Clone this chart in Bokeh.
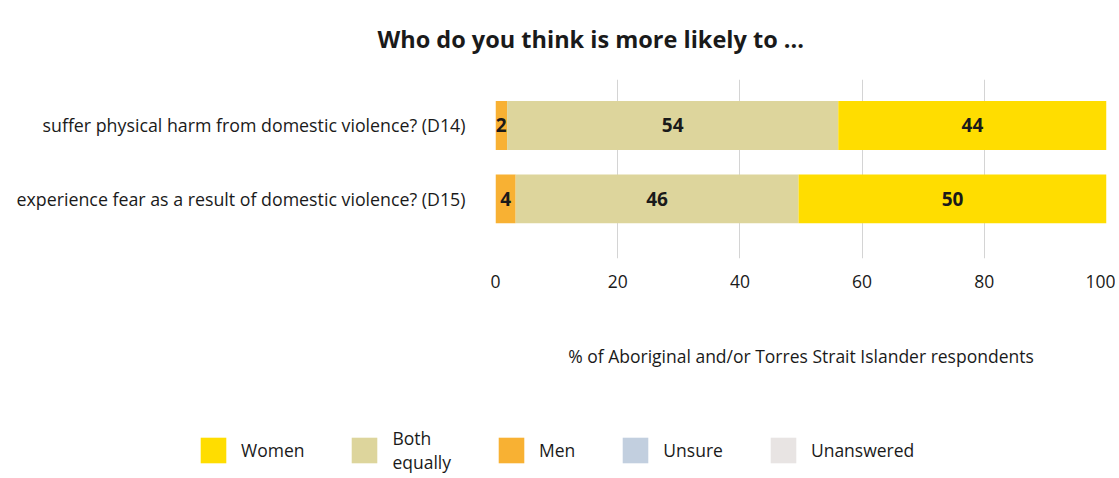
from bokeh.plotting import figure
from bokeh.models import (ColumnDataSource, Range1d, FixedTicker, Legend, LegendItem,
                          LabelSet)
from bokeh.embed import file_html
from bokeh.resources import INLINE
from bokeh.core.properties import value

# ---- data ----
categories = ["suffer physical harm from domestic violence? (D14)",
              "experience fear as a result of domestic violence? (D15)"]
men = [1.9, 3.3]
both = [54.2, 46.3]
women = [43.9, 50.4]
unsure = [0.0, 0.0]
unanswered = [0.0, 0.0]
men_labels = ["2", "4"]
both_labels = ["54", "46"]
women_labels = ["44", "50"]
series_names = ["Women", "Both\nequally", "Men", "Unsure", "Unanswered"]
x_ticks = [0, 20, 40, 60, 80, 100]
title_text = "Who do you think is more likely to ..."
x_title = "% of Aboriginal and/or Torres Strait Islander respondents"

C_WOMEN = "#FFDD00"
C_BOTH = "#DDD59C"
C_MEN = "#F8B133"
C_UNSURE = "#C2CFDF"
C_UNANS = "#E8E4E3"
FONT = "Open Sans"
TXT = "#1a1a1a"
FS = "17.5px"
W = 1115

n = len(categories)
ypos = [n - 1 - i for i in range(n)]
men_mid = [m / 2 for m in men]
both_mid = [m + b / 2 for m, b in zip(men, both)]
women_mid = [m + b + w / 2 for m, b, w in zip(men, both, women)]

src = ColumnDataSource(dict(y=ypos, men=men, both=both, women=women,
                            unsure=unsure, unanswered=unanswered,
                            men_mid=men_mid, both_mid=both_mid, women_mid=women_mid,
                            men_lab=men_labels, both_lab=both_labels, women_lab=women_labels))
stack_cols = ["men", "both", "women", "unsure", "unanswered"]
stack_colors = [C_MEN, C_BOTH, C_WOMEN, C_UNSURE, C_UNANS]

p = figure(width=W, height=410, output_backend="svg", toolbar_location=None,
           x_range=Range1d(0, 100), y_range=Range1d(-0.813, 1.627),
           min_border_left=495, min_border_right=W - 1106, min_border_top=75, min_border_bottom=152)
p.outline_line_color = None
p.background_fill_color = "white"
p.border_fill_color = "white"

rs = p.hbar_stack(stack_cols, y="y", height=0.667, color=stack_colors, line_color=None, source=src)

for xcol, lcol in [("men_mid", "men_lab"), ("both_mid", "both_lab"), ("women_mid", "women_lab")]:
    ls = LabelSet(x=xcol, y="y", text=lcol, source=src, text_align="center",
                  text_baseline="middle", text_font=value(FONT), text_font_style="bold",
                  text_font_size="19px", text_color=TXT)
    p.add_layout(ls)

# axes
p.xaxis.ticker = FixedTicker(ticks=x_ticks)
p.xaxis.axis_line_color = None
p.xaxis.major_tick_line_color = None
p.xaxis.minor_tick_line_color = None
p.xaxis.major_label_standoff = 10
p.xaxis.major_label_text_font = FONT
p.xaxis.major_label_text_font_size = FS
p.xaxis.major_label_text_color = TXT
p.xaxis.axis_label = x_title
p.xaxis.axis_label_standoff = 53
p.xaxis.axis_label_text_font = FONT
p.xaxis.axis_label_text_font_size = FS
p.xaxis.axis_label_text_font_style = "normal"
p.xaxis.axis_label_text_color = TXT

p.yaxis.ticker = FixedTicker(ticks=ypos)
p.yaxis.major_label_overrides = {y: c for y, c in zip(ypos, categories)}
p.yaxis.axis_line_color = None
p.yaxis.major_tick_line_color = None
p.yaxis.minor_tick_line_color = None
p.yaxis.major_label_standoff = 24
p.yaxis.major_label_text_font = FONT
p.yaxis.major_label_text_font_size = "17.8px"
p.yaxis.major_label_text_color = TXT

p.xgrid.grid_line_color = "#d4d4d4"
p.xgrid.grid_line_width = 1
p.ygrid.grid_line_color = None

# title
p.title.text = title_text
p.title.align = "left"
p.title.vertical_align = "top"
p.title.offset = -118
p.title.standoff = 45
p.title.text_font = FONT
p.title.text_font_size = "23.5px"
p.title.text_font_style = "bold"
p.title.text_color = TXT

# legend (separate strip below the chart)
lg = figure(width=W, height=66, output_backend="svg", toolbar_location=None,
            x_range=Range1d(0, 100), y_range=Range1d(100, 101),
            min_border_left=0, min_border_right=0, min_border_top=0, min_border_bottom=0)
lg.axis.visible = False
lg.grid.visible = False
lg.outline_line_color = None
lrs = lg.hbar_stack(stack_cols, y="y", height=0.667, color=stack_colors, line_color=None, source=src)

order = [2, 1, 0, 3, 4]
items = [LegendItem(label=series_names[i], renderers=[lrs[j]]) for i, j in enumerate(order)]
leg = Legend(items=items, orientation="horizontal", location=(197, 2),
             glyph_width=32, glyph_height=32, label_standoff=12, spacing=44,
             padding=0, margin=0, border_line_color=None, background_fill_alpha=0,
             label_text_font=FONT, label_text_font_size=FS, label_text_color=TXT)
lg.add_layout(leg, "center")

open("out.html", "w").write(file_html([p, lg], INLINE))
